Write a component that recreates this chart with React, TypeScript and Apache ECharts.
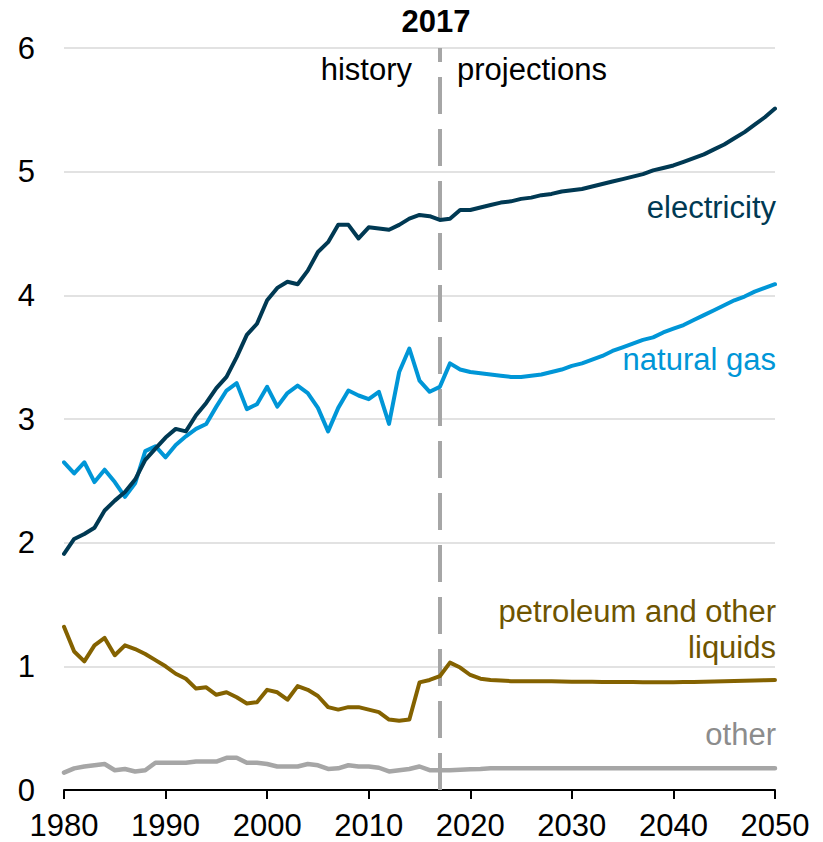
import React, { useEffect, useRef } from "react";
import * as echarts from "echarts";

const years: number[] = [];
for (let y = 1980; y <= 2050; y++) years.push(y);

const electricity = [
  1.91, 2.03, 2.07, 2.12, 2.26, 2.34, 2.41, 2.51, 2.67, 2.76,
  2.85, 2.92, 2.9, 3.03, 3.13, 3.25, 3.34, 3.5, 3.68, 3.77,
  3.96, 4.06, 4.11, 4.09, 4.2, 4.35, 4.43, 4.57, 4.57, 4.46,
  4.55, 4.54, 4.53, 4.57, 4.62, 4.65, 4.64, 4.61, 4.62, 4.69,
  4.69, 4.71, 4.73, 4.75, 4.76, 4.78, 4.79, 4.81, 4.82, 4.84,
  4.85, 4.86, 4.88, 4.9, 4.92, 4.94, 4.96, 4.98, 5.01, 5.03,
  5.05, 5.08, 5.11, 5.14, 5.18, 5.22, 5.27, 5.32, 5.38, 5.44,
  5.51,
];

const naturalGas = [
  2.65, 2.56, 2.65, 2.49, 2.59, 2.49, 2.37, 2.48, 2.74, 2.78,
  2.69, 2.79, 2.86, 2.92, 2.96, 3.1, 3.23, 3.29, 3.08, 3.12,
  3.26, 3.1, 3.21, 3.27, 3.21, 3.09, 2.9, 3.09, 3.23, 3.19,
  3.16, 3.22, 2.96, 3.38, 3.57, 3.31, 3.22, 3.26, 3.45, 3.4,
  3.38, 3.37, 3.36, 3.35, 3.34, 3.34, 3.35, 3.36, 3.38, 3.4,
  3.43, 3.45, 3.48, 3.51, 3.55, 3.58, 3.61, 3.64, 3.66, 3.7,
  3.73, 3.76, 3.8, 3.84, 3.88, 3.92, 3.96, 3.99, 4.03, 4.06,
  4.09,
];

const petroleum = [
  1.32, 1.12, 1.04, 1.17, 1.23, 1.09, 1.17, 1.14, 1.1, 1.05,
  1.0, 0.94, 0.9, 0.82, 0.83, 0.77, 0.79, 0.75, 0.7, 0.71,
  0.81, 0.79, 0.73, 0.84, 0.81, 0.76, 0.67, 0.65, 0.67, 0.67,
  0.65, 0.63, 0.57, 0.56, 0.57, 0.87, 0.89, 0.92, 1.03, 0.99,
  0.93, 0.9, 0.89, 0.885, 0.88, 0.88, 0.88, 0.88, 0.88, 0.877,
  0.875, 0.875, 0.875, 0.874, 0.874, 0.873, 0.873, 0.872, 0.872, 0.872,
  0.872, 0.873, 0.874, 0.876, 0.878, 0.88, 0.882, 0.884, 0.886, 0.888,
  0.89,
];

const other = [
  0.14, 0.175, 0.19, 0.2, 0.21, 0.16, 0.17, 0.15, 0.16, 0.22,
  0.22, 0.22, 0.22, 0.23, 0.23, 0.23, 0.26, 0.26, 0.22, 0.22,
  0.21, 0.19, 0.19, 0.19, 0.21, 0.2, 0.17, 0.175, 0.2, 0.19,
  0.19, 0.18, 0.15, 0.16, 0.17, 0.19, 0.16, 0.16, 0.16, 0.163,
  0.167, 0.17, 0.175, 0.175, 0.175, 0.175, 0.175, 0.175, 0.175, 0.175,
  0.175, 0.175, 0.175, 0.175, 0.175, 0.175, 0.175, 0.175, 0.175, 0.175,
  0.175, 0.175, 0.175, 0.175, 0.175, 0.175, 0.175, 0.175, 0.175, 0.175,
  0.175,
];

const dividerYear = 2017;
const yTicks = [0, 1, 2, 3, 4, 5, 6];

const FONT = "Arial, 'Liberation Sans', Helvetica, sans-serif";
const FS = 31;

const pair = (arr: number[]) => years.map((y, i) => [y, arr[i]]);

export default function App() {
  const ref = useRef<HTMLDivElement>(null);

  useEffect(() => {
    document.body.style.margin = "0";
    if (!ref.current) return;
    const chart = echarts.init(ref.current, undefined, { renderer: "svg" });

    const lineSeries = (name: string, data: number[], color: string, width: number, z: number) => ({
      name,
      type: "line",
      data: pair(data),
      showSymbol: false,
      symbol: "none",
      lineStyle: { color, width, join: "round", cap: "round" },
      z,
      silent: true,
    });

    const labelText = (text: string, x: number, y: number, color: string, bold = false, align = "right") => ({
      type: "text",
      x,
      y,
      style: {
        text,
        fill: color,
        font: `${bold ? "bold " : ""}${FS}px ${FONT}`,
        textAlign: align,
        textVerticalAlign: "middle",
      },
      z: 100,
    });

    chart.setOption({
      animation: false,
      grid: { left: 64, right: 48, top: 48, bottom: 52, containLabel: false },
      xAxis: {
        type: "value",
        min: 1980,
        max: 2050,
        interval: 10,
        axisLine: { show: true, lineStyle: { color: "#000", width: 2 } },
        axisTick: { show: true, inside: false, length: 9, lineStyle: { color: "#000", width: 2 } },
        axisLabel: {
          color: "#000",
          fontSize: FS,
          fontFamily: FONT,
          margin: 20,
          formatter: (v: number) => String(v),
        },
        splitLine: { show: false },
      },
      yAxis: {
        type: "value",
        min: yTicks[0],
        max: yTicks[yTicks.length - 1],
        interval: 1,
        axisLine: { show: false },
        axisTick: { show: false },
        axisLabel: {
          color: "#000",
          fontSize: FS,
          fontFamily: FONT,
          margin: 29,
        },
        splitLine: { show: true, lineStyle: { color: "#D9D9D9", width: 1.5 } },
      },
      series: [
        {
          ...lineSeries("other", other, "#A6A6A6", 4.5, 2),
          markLine: {
            silent: true,
            symbol: ["none", "none"],
            label: { show: false },
            lineStyle: { color: "#A6A6A6", width: 4, type: [37, 15] },
            data: [[{ coord: [dividerYear, yTicks[0]] }, { coord: [dividerYear, yTicks[yTicks.length - 1]] }]],
            z: 1,
          },
        },
        lineSeries("petroleum and other liquids", petroleum, "#846200", 4, 3),
        lineSeries("natural gas", naturalGas, "#0096D7", 4, 4),
        lineSeries("electricity", electricity, "#003953", 4, 5),
      ],
      graphic: [
        labelText("2017", 436, 21, "#000", true, "center"),
        labelText("history", 412, 69, "#000"),
        labelText("projections", 457, 69, "#000", false, "left"),
        labelText("electricity", 776, 207, "#003953"),
        labelText("natural gas", 776, 359, "#0096D7"),
        labelText("petroleum and other", 776, 611, "#6E5400"),
        labelText("liquids", 776, 647, "#6E5400"),
        labelText("other", 776, 734, "#8C8C8C"),
      ],
    });

    return () => chart.dispose();
  }, []);

  return <div ref={ref} style={{ width: 823, height: 842 }} />;
}
